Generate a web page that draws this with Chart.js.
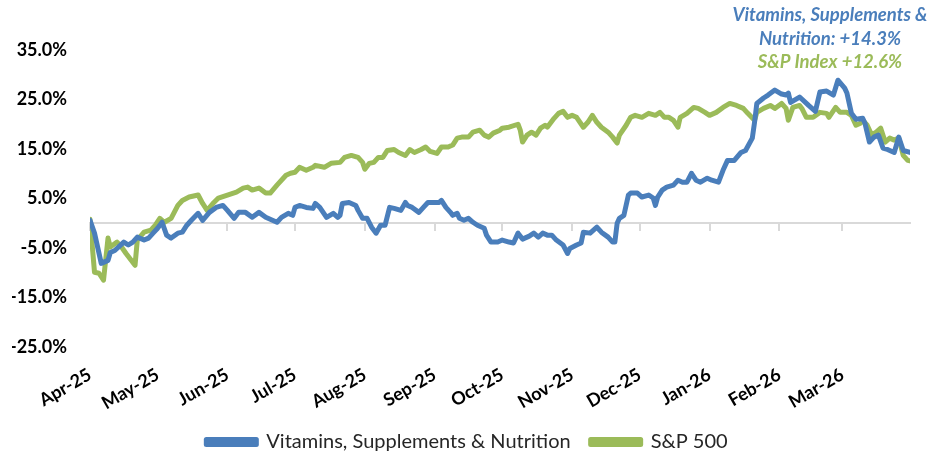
<!DOCTYPE html>
<html>
<head>
<meta charset="utf-8">
<script src="https://cdn.jsdelivr.net/npm/chart.js@4.4.1/dist/chart.umd.min.js"></script>
<style>
html,body{margin:0;padding:0;background:#fff;}
#wrap{width:930px;height:458px;position:relative;}
</style>
</head>
<body>
<div id="wrap"><canvas id="c"></canvas></div>
<script>
// Month tick labels (first day of each month, Apr-2025 .. Mar-2026)
const tickLabels = ["Apr-25","May-25","Jun-25","Jul-25","Aug-25","Sep-25","Oct-25","Nov-25","Dec-25","Jan-26","Feb-26","Mar-26"];
const axisEndDay = 364; // days after 1 Apr 2025

// Vitamins, Supplements & Nutrition: days after 1 Apr 2025 / cumulative return (%)
const vitDays = [0,2,5,8,9,11,15,17,19,21,24,26,28,30,32,34,36,39,41,43,45,48,50,53,56,59,61,64,66,69,72,75,78,81,83,85,88,90,91,93,96,99,100,102,105,108,110,111,112,115,118,119,121,123,125,127,129,131,133,135,138,140,141,143,146,148,150,152,155,156,158,160,161,163,164,166,168,170,172,175,176,178,181,183,186,188,190,192,195,197,199,201,203,205,207,210,212,213,216,218,219,222,225,227,230,232,233,234,235,237,239,240,243,245,248,250,251,252,254,256,259,261,263,265,267,269,271,274,276,279,281,283,286,289,291,294,295,296,299,301,304,307,309,310,311,315,319,322,324,327,330,332,335,336,338,340,343,344,346,348,350,352,354,357,359,361,364];
const vitValues = [0.6,-2.0,-8.1,-7.5,-5.9,-5.5,-3.8,-4.4,-3.8,-2.8,-3.4,-3.0,-2.0,-1.0,0.2,-2.4,-3.0,-2.0,-1.8,-0.4,0.6,2.0,0.6,2.2,3.2,3.6,2.6,1.0,2.2,2.2,1.2,2.2,1.2,0.6,0.2,1.2,2.0,1.6,3.2,3.6,3.2,3.0,4.0,3.2,1.2,2.0,1.2,1.6,4.0,4.2,3.6,2.6,1.0,1.0,-0.8,-2.0,-0.4,-0.4,3.2,3.0,2.6,4.2,3.6,3.2,2.2,3.2,4.2,4.2,4.2,4.6,3.2,2.2,1.6,2.0,1.0,0.6,1.0,0.2,-0.4,-1.0,-2.4,-3.8,-3.8,-3.4,-3.8,-4.0,-2.0,-3.2,-2.6,-2.0,-2.8,-2.0,-2.4,-2.4,-3.4,-4.4,-6.1,-5.1,-4.4,-4.0,-1.8,-2.0,-0.8,-1.8,-2.8,-3.8,-3.8,0.0,1.0,1.6,5.7,6.1,6.1,5.3,5.7,5.1,3.6,5.3,6.7,7.3,7.7,8.7,8.3,8.3,10.1,8.7,8.3,9.1,8.7,8.3,10.7,12.7,12.7,14.3,14.7,17.2,20.4,24.2,25.3,25.9,26.9,26.1,25.9,26.3,24.4,25.5,23.8,22.6,26.5,26.7,25.9,28.9,27.3,26.3,22.2,21.0,21.2,20.2,16.4,17.4,17.8,15.2,14.9,14.3,17.4,14.7,14.3];

// S&P 500: days after 1 Apr 2025 / cumulative return (%)
const spDays = [0,2,4,6,8,9,12,14,16,20,21,24,27,29,31,33,36,39,41,44,48,50,52,55,57,61,65,68,70,72,75,78,80,83,87,89,91,93,96,99,100,104,107,111,113,116,119,121,122,124,126,128,130,132,135,137,140,142,144,147,149,151,154,156,159,161,163,165,168,170,173,175,177,179,182,183,186,190,191,192,194,196,198,200,202,203,206,208,210,212,214,216,219,221,223,225,227,230,232,234,235,238,240,242,245,248,251,253,255,257,259,261,262,265,268,270,273,275,278,281,284,287,290,292,295,296,299,302,304,307,309,310,312,315,316,318,321,324,327,328,331,333,336,338,340,342,343,345,347,349,351,353,355,357,359,361,363,364];
const spValues = [0.8,-9.9,-10.1,-11.5,-3.0,-4.8,-3.8,-4.8,-6.1,-8.5,-3.4,-1.8,-1.4,-0.4,1.0,0.2,1.0,3.6,4.6,5.3,5.7,4.0,2.6,4.2,5.1,5.7,6.3,7.1,7.3,6.7,7.1,6.1,6.1,7.7,9.7,10.1,10.3,11.3,10.7,11.3,11.7,11.3,12.1,12.3,13.3,13.7,13.3,12.3,10.9,12.1,12.3,13.3,13.3,14.7,14.9,14.3,13.7,14.9,14.3,14.9,15.4,14.5,14.1,15.4,15.4,15.8,17.2,17.4,17.4,18.4,18.8,17.8,17.4,18.2,18.8,19.2,19.4,20.0,18.8,16.4,17.8,18.4,17.8,19.2,19.8,19.4,21.2,22.2,22.6,21.4,21.8,21.4,19.4,20.4,21.8,20.4,19.4,18.4,17.4,16.2,17.8,19.8,21.4,21.8,21.4,22.2,21.8,22.4,21.4,21.4,20.8,19.4,21.4,22.2,23.4,23.2,22.4,21.8,22.4,23.4,24.2,23.8,23.2,22.2,20.8,22.4,23.2,23.8,23.2,24.2,23.2,20.8,23.4,23.8,23.2,21.4,21.4,22.4,22.2,21.4,23.4,22.4,22.4,21.8,19.8,20.2,20.8,19.8,17.8,18.4,19.2,16.4,17.2,16.8,17.2,13.7,12.7,12.6];

const seriesNames = ["Vitamins, Supplements & Nutrition", "S&P 500"];
const noteLines = ["Vitamins, Supplements &", "Nutrition: +14.3%", "S&P Index +12.6%"];

const BLUE = "#4a7ebb";
const GREEN = "#9bbb59";
const FONT = "Lato, 'Open Sans', sans-serif";

// month start offsets (days after 1 Apr 2025) derived from tick labels
const base = Date.UTC(2025, 3, 1);
const monthTicks = tickLabels.map((_, i) => Math.round((Date.UTC(2025, 3 + i, 1) - base) / 86400000));

const toXY = (days, vals) => days.map((d, i) => ({x: d, y: vals[i]}));

const setMonthTicks = (scale) => { scale.ticks = monthTicks.map(v => ({value: v})); };

const notePlugin = {
  id: 'note',
  afterDraw(chart) {
    const ctx = chart.ctx;
    ctx.save();
    ctx.font = "italic bold 18.5px " + FONT;
    ctx.textAlign = "center";
    ctx.textBaseline = "middle";
    ctx.fillStyle = BLUE;
    ctx.fillText(noteLines[0], 830, 15);
    ctx.fillText(noteLines[1], 830, 39);
    ctx.fillStyle = GREEN;
    ctx.fillText(noteLines[2], 830, 62);
    ctx.restore();
  }
};

new Chart(document.getElementById('c'), {
  type: 'line',
  data: {
    datasets: [
      {label: seriesNames[0], data: toXY(vitDays, vitValues), borderColor: BLUE, backgroundColor: BLUE, borderWidth: 5, pointRadius: 0, tension: 0, xAxisID: 'x', yAxisID: 'y', borderJoinStyle: 'round', borderCapStyle: 'round'},
      {label: seriesNames[1], data: toXY(spDays, spValues), borderColor: GREEN, backgroundColor: GREEN, borderWidth: 5, pointRadius: 0, tension: 0, xAxisID: 'x', yAxisID: 'y', borderJoinStyle: 'round', borderCapStyle: 'round'}
    ]
  },
  options: {
    responsive: true,
    maintainAspectRatio: false,
    devicePixelRatio: 1,
    animation: false,
    layout: {padding: {left: 12, right: 8, top: 50, bottom: -4}},
    plugins: {
      legend: {
        position: 'bottom',
        labels: {font: {family: FONT, size: 20}, color: '#262626', boxWidth: 50, boxHeight: 5, padding: 20}
      },
      tooltip: {enabled: false},
      title: {display: false}
    },
    scales: {
      x: {
        type: 'linear', position: 'bottom', min: 0, max: axisEndDay,
        afterBuildTicks: setMonthTicks,
        afterFit: (s) => { s.height = 65; s.paddingLeft = 0; s.paddingRight = 20; },
        grid: {display: false, drawTicks: false}, border: {display: false},
        ticks: {
          autoSkip: false, maxRotation: 30, minRotation: 30, padding: 17,
          font: {family: FONT, size: 18, weight: 'bold'}, color: '#000',
          callback: (v) => { const i = monthTicks.indexOf(v); return i >= 0 ? tickLabels[i] : ''; }
        }
      },
      x0: {
        type: 'linear', position: {y: 0}, min: 0, max: axisEndDay,
        afterBuildTicks: setMonthTicks,
        grid: {display: true, drawOnChartArea: false, drawTicks: true, tickLength: 7, color: '#d9d9d9', lineWidth: 2},
        border: {display: true, color: '#d9d9d9', width: 2},
        ticks: {display: false}
      },
      y: {
        type: 'linear', min: -25, max: 35,
        afterFit: (s) => { s.width = 78; },
        grid: {display: false, drawTicks: false}, border: {display: false},
        ticks: {
          stepSize: 10, padding: 23,
          font: {family: FONT, size: 18, weight: 'bold'}, color: '#000',
          callback: (v) => v.toFixed(1) + '%'
        }
      }
    }
  },
  plugins: [notePlugin]
});
</script>
</body>
</html>
